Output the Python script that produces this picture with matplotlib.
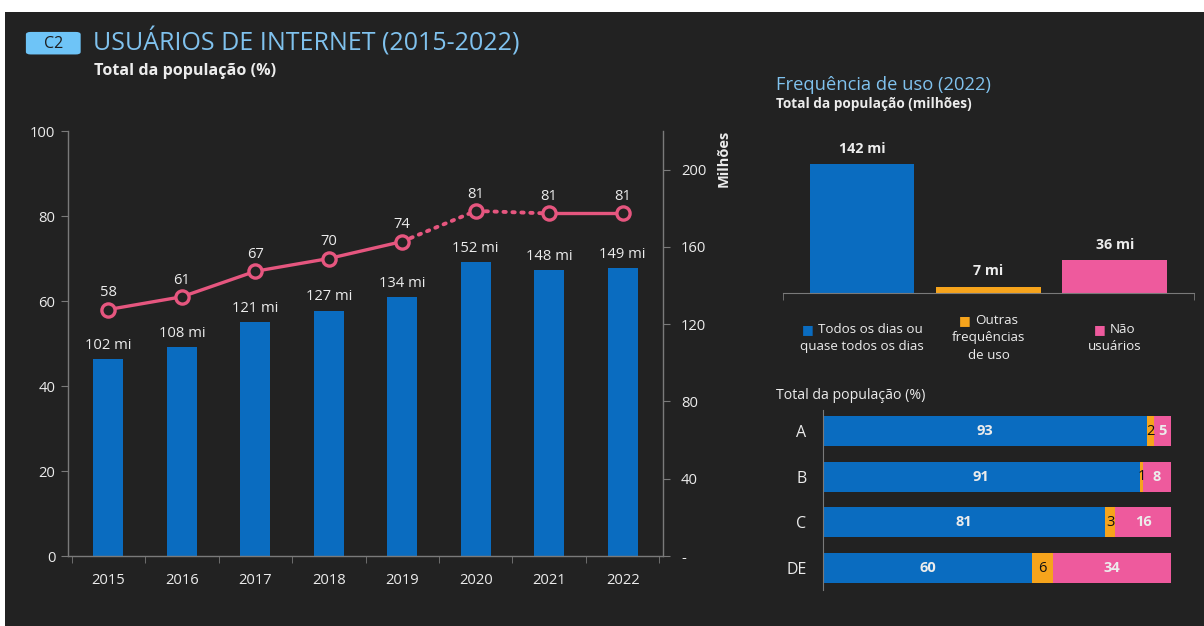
import numpy as np
import matplotlib
matplotlib.use('Agg')
import matplotlib.pyplot as plt
from matplotlib import font_manager
from matplotlib.patches import FancyBboxPatch, Rectangle
from matplotlib.offsetbox import TextArea, HPacker, VPacker, AnnotationBbox


def tem_negrito(fam):
    for f in font_manager.fontManager.ttflist:
        w = f.weight if isinstance(f.weight, int) else 400
        if f.name == fam and w >= 600 and f.style == 'normal':
            return True
    return False


FONT = 'DejaVu Sans'
for fam in ['Open Sans', 'Noto Sans', 'Lato', 'Roboto']:
    if tem_negrito(fam):
        FONT = fam
        break
plt.rcParams['font.family'] = [FONT, 'DejaVu Sans']

# cores
BG = '#222222'
BLUE = '#0a6cc0'
ORANGE = '#f6a41c'
PINK = '#ee5a9d'
LINE = '#e6567f'
TITLE = '#80c2ee'
TXT = '#ececec'
AXC = '#7a7a7a'

# dados - gráfico principal
years = ['2015', '2016', '2017', '2018', '2019', '2020', '2021', '2022']
usuarios_pct = [58, 61, 67, 70, 74, 81.2, 80.6, 80.6]
usuarios_mi = [102, 108, 121, 127, 134, 152, 148, 149]
right_ticks = [0, 40, 80, 120, 160, 200]
right_ticklabels = ['-', '40', '80', '120', '160', '200']

# frequência de uso (2022)
freq_first = ['Todos os dias ou', 'Outras', 'Não']
freq_rest = [['quase todos os dias'], ['frequências', 'de uso'], ['usuários']]
freq_mi = [142, 7, 36]
freq_colors = [BLUE, ORANGE, PINK]

# por classe (%)
classes = ['A', 'B', 'C', 'DE']
todos_dias = [93, 91, 81, 60]
outras = [2, 1, 3, 6]
nao_usuarios = [5, 8, 16, 34]

fig = plt.figure(figsize=(12.04, 6.26), dpi=100, facecolor='white')
fig.add_artist(Rectangle((5 / 1204, 0), 1, 614 / 626, transform=fig.transFigure,
                         facecolor=BG, edgecolor='none', zorder=-5))

# cabeçalho
fig.add_artist(FancyBboxPatch((0.0215, 0.913), 0.0455, 0.036, boxstyle='round,pad=0,rounding_size=0.004',
                              transform=fig.transFigure, facecolor='#6ec4f7', edgecolor='none'))
fig.text(0.0443, 0.930, 'C2', color='#1d1d1d', fontsize=11.5, ha='center', va='center')
fig.text(0.077, 0.933, 'USUÁRIOS DE INTERNET (2015-2022)', color=TITLE, fontsize=18, ha='left', va='center')
fig.text(0.078, 0.886, 'Total da população (%)', color=TXT, fontsize=11.6, fontweight='bold',
         ha='left', va='center')

# ---- gráfico principal ----
x = np.arange(len(years))
ax = fig.add_axes([0.0565, 0.1118, 0.4942, 0.6789])
ax2 = ax.twinx()
ax.set_zorder(ax2.get_zorder() + 1)
ax.patch.set_visible(False)
ax2.set_facecolor(BG)

ax2.bar(x, usuarios_mi, width=0.41, color=BLUE)
for i, v in enumerate(usuarios_mi):
    ax2.annotate(f'{v} mi', (i, v), xytext=(0, 10), textcoords='offset points',
                 ha='center', va='center', color=TXT, fontsize=10.6)

ax.plot(x[:5], usuarios_pct[:5], color=LINE, lw=2.4, solid_capstyle='round')
ax.plot(x[4:7], usuarios_pct[4:7], color=LINE, lw=2.8, ls=(0, (0.6, 1.7)), dash_capstyle='round')
ax.plot(x[6:], usuarios_pct[6:], color=LINE, lw=2.4, solid_capstyle='round')
ax.plot(x, usuarios_pct, ls='none', marker='o', ms=9.5, mfc=BG, mec=LINE, mew=2.4)
for i, v in enumerate(usuarios_pct):
    ax.annotate(f'{round(v)}', (i, v), xytext=(0, 12), textcoords='offset points',
                ha='center', va='center', color=TXT, fontsize=10.6)

ax.set_xlim(-0.55, 7.55)
ax.set_ylim(0, 100)
ax2.set_ylim(0, 220)
ax.set_yticks(range(0, 101, 20))
ax2.set_yticks(right_ticks)
ax2.set_yticklabels(right_ticklabels)
ax.set_xticks(x)
ax.set_xticklabels(years)
ax.set_xticks(np.arange(-0.5, 8, 1), minor=True)
ax.tick_params(axis='x', which='major', length=0, pad=12, colors=TXT, labelsize=10.6)
ax.tick_params(axis='x', which='minor', length=5, color=AXC)
ax.tick_params(axis='y', length=5, color=AXC, labelcolor=TXT, labelsize=10.6, pad=4)
ax2.tick_params(axis='y', length=5, color=AXC, labelcolor=TXT, labelsize=10.6, pad=8)
for a in (ax, ax2):
    for s in a.spines.values():
        s.set_visible(False)
ax.spines['left'].set_visible(True)
ax.spines['bottom'].set_visible(True)
ax2.spines['right'].set_visible(True)
for s in (ax.spines['left'], ax.spines['bottom'], ax2.spines['right']):
    s.set_color(AXC)
    s.set_linewidth(1)

fig.text(0.601, 0.792, 'Milhões', rotation=90, ha='center', va='top', color=TXT,
         fontsize=10.5, fontweight='bold')

# ---- frequência de uso ----
fig.text(0.6445, 0.864, 'Frequência de uso (2022)', color=TITLE, fontsize=13.2, ha='left', va='center')
fig.text(0.6445, 0.834, 'Total da população (milhões)', color=TXT, fontsize=9.8, fontweight='bold',
         ha='left', va='center')

ax3 = fig.add_axes([0.6503, 0.532, 0.3414, 0.261])
ax3.set_facecolor('none')
xf = np.arange(len(freq_mi))
ax3.bar(xf, freq_mi, width=0.83, color=freq_colors)
for i, v in enumerate(freq_mi):
    ax3.annotate(f'{v} mi', (i, v), xytext=(0, 11), textcoords='offset points',
                 ha='center', va='center', color=TXT, fontsize=10.3, fontweight='bold')
ax3.set_xlim(-0.625, 2.625)
ax3.set_ylim(0, 180)
ax3.set_yticks([])
ax3.set_xticks([])
ax3.set_xticks([-0.625, 2.625], minor=True)
ax3.tick_params(axis='x', which='minor', length=5, color=AXC)
for s in ax3.spines.values():
    s.set_visible(False)
ax3.spines['bottom'].set_visible(True)
ax3.spines['bottom'].set_color(AXC)

for i in range(len(freq_mi)):
    first = HPacker(children=[TextArea('■', textprops=dict(color=freq_colors[i], fontsize=9)),
                              TextArea(freq_first[i], textprops=dict(color=TXT, fontsize=9.6))],
                    align='baseline', pad=0, sep=3)
    lines = [first] + [TextArea(t, textprops=dict(color=TXT, fontsize=9.6)) for t in freq_rest[i]]
    box = VPacker(children=lines, align='center', pad=0, sep=3)
    ab = AnnotationBbox(box, (i, -0.275), xycoords=ax3.get_xaxis_transform(),
                        box_alignment=(0.5, 0.5), frameon=False)
    ax3.add_artist(ab)

# ---- por classe ----
fig.text(0.6445, 0.369, 'Total da população (%)', color=TXT, fontsize=10.2, ha='left', va='center')
ax4 = fig.add_axes([0.6836, 0.0575, 0.289, 0.2875])
ax4.set_facecolor('none')
yc = np.arange(len(classes))
left_o = np.array(todos_dias)
left_n = left_o + np.array(outras)
ax4.barh(yc, todos_dias, height=0.66, color=BLUE)
ax4.barh(yc, outras, left=left_o, height=0.66, color=ORANGE)
ax4.barh(yc, nao_usuarios, left=left_n, height=0.66, color=PINK)
for i in range(len(classes)):
    ax4.text(todos_dias[i] / 2, i, str(todos_dias[i]), ha='center', va='center', color=TXT,
             fontsize=10.5, fontweight='bold')
    ax4.text(left_o[i] + outras[i] / 2, i, str(outras[i]), ha='center', va='center', color='#111111',
             fontsize=10.5)
    ax4.text(left_n[i] + nao_usuarios[i] / 2, i, str(nao_usuarios[i]), ha='center', va='center',
             color=TXT, fontsize=10.5, fontweight='bold')
ax4.set_xlim(0, 100)
ax4.set_ylim(3.48, -0.46)
ax4.set_xticks([])
ax4.set_yticks(yc)
ax4.set_yticklabels(classes)
ax4.tick_params(axis='y', length=0, pad=12, labelcolor=TXT, labelsize=11.5)
for s in ax4.spines.values():
    s.set_visible(False)
ax4.spines['left'].set_visible(True)
ax4.spines['left'].set_color(AXC)

fig.savefig('out.png', dpi=100, facecolor=fig.get_facecolor())
